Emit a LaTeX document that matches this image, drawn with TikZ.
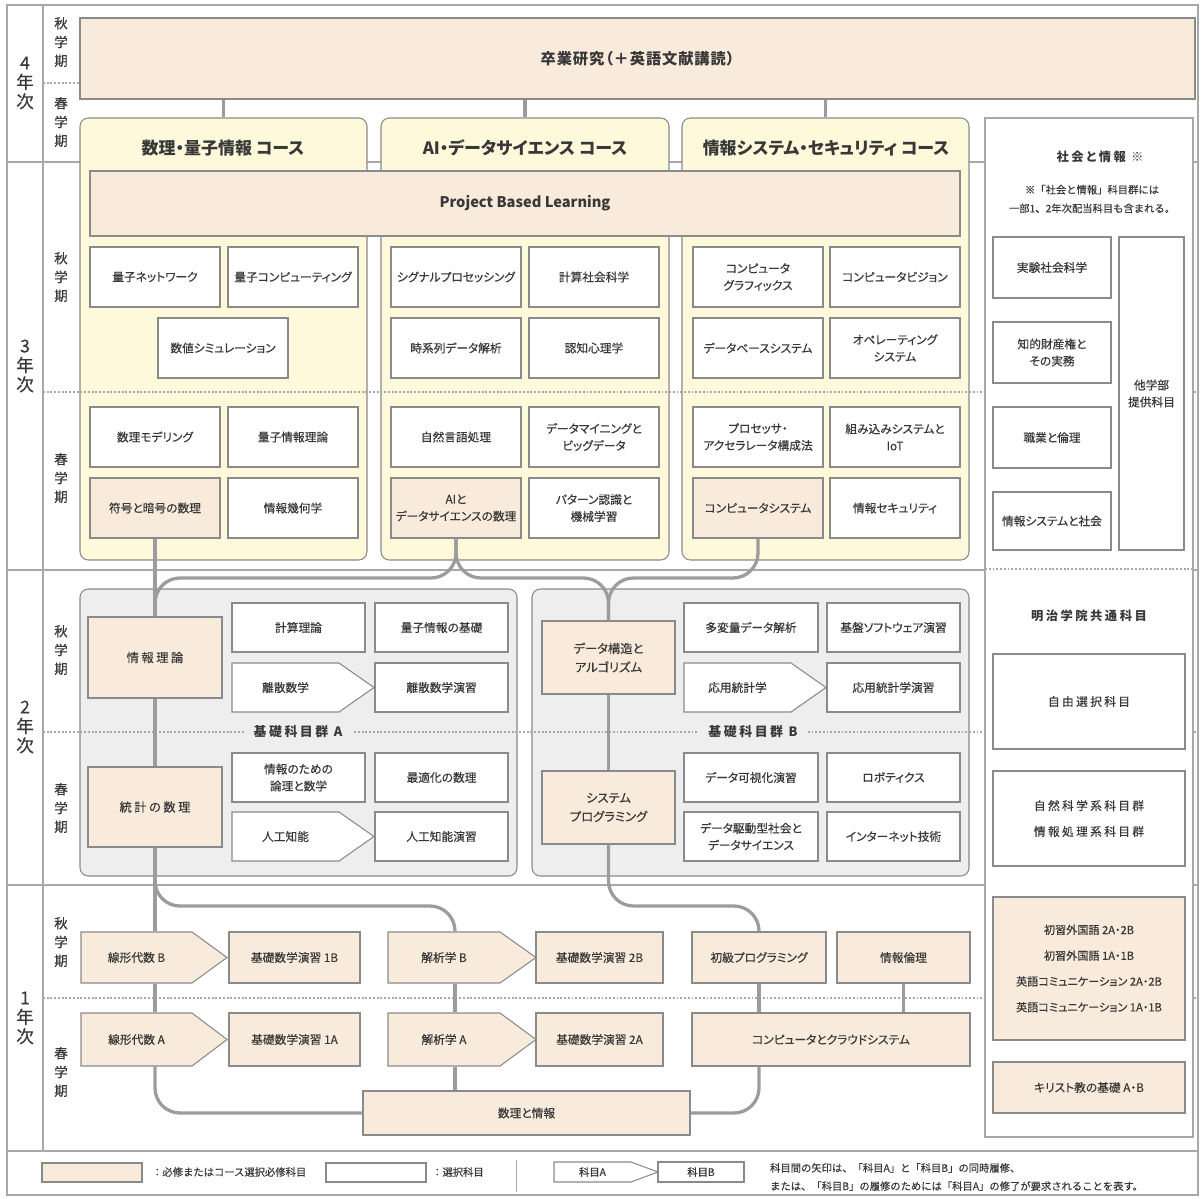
\documentclass[tikz,border=0pt]{standalone}
\usepackage{fontspec}
\setmainfont{Noto Sans CJK JP}[RawFeature=+palt, UprightFeatures={FakeBold=0.3}]
\newfontfamily\plainjp{Noto Sans CJK JP}[UprightFeatures={FakeBold=0.3}]
\usetikzlibrary{calc}

\definecolor{reqc}{HTML}{F8EBDB}
\definecolor{crsc}{HTML}{FFF9DC}
\definecolor{grpc}{HTML}{EEEEEE}
\definecolor{boxc}{HTML}{8A8A8A}
\definecolor{framec}{HTML}{A8A8A8}
\definecolor{connc}{HTML}{9C9C9C}
\definecolor{txtc}{HTML}{383838}

\newcommand\fs{\fontsize{10}{14.5}\selectfont}
\newcommand\lfs{\plainjp\fontsize{8.8}{15.5}\selectfont}
\newcommand\spaced{\addfontfeature{LetterSpace=20}}

% chevron box: style, name, x1, y1, x2, y2 (body), tip length, text
\newcommand\chev[8]{%
  \draw[#1] (#3,#4) -- (#5,#4) -- ({#5+#7},{(#4+#6)/2}) -- (#5,#6) -- (#3,#6) -- cycle;
  \node[#1, draw=none, fill=none, cell={#3/#4/#5/#6}] (#2) {#8};
}

\tikzset{
  cell/.style args={#1/#2/#3/#4}{at={({(#1+#3)/2},{(#2+#4)/2})},
    minimum width={(#3-#1)*0.03cm}, minimum height={(#4-#2)*0.03cm}},
  box/.style={draw=boxc, line width=0.9pt, inner sep=0pt, align=center, text=txtc, font=\fs},
  sel/.style={box, fill=white},
  req/.style={box, fill=reqc},
  course/.style={draw=boxc, line width=0.9pt, fill=crsc, rounded corners=0.25cm, inner sep=0pt},
  group/.style={draw=boxc, line width=0.9pt, fill=grpc, rounded corners=0.25cm, inner sep=0pt},
  rule/.style={draw=framec, line width=1.2pt},
  semline/.style={draw=framec, line width=1pt, dash pattern=on 1.6pt off 1.6pt},
  conn/.style={draw=connc, line width=2.8pt, rounded corners=0.75cm},
  yearlbl/.style={align=center, text=txtc, font={\fontsize{15}{16.5}\selectfont}},
  semlbl/.style={align=center, text=txtc, font={\fontsize{11.5}{16}\selectfont}},
  head/.style={text=txtc, font={\fontsize{14.5}{17}\selectfont\bfseries}},
  grplbl/.style={fill=grpc, inner xsep=0.3cm, inner ysep=1pt, text=txtc, font={\fontsize{11}{13}\selectfont\bfseries\spaced}},
  sidettl/.style={text=txtc, font={\fontsize{10.5}{13}\selectfont\bfseries\spaced}},
  note/.style={align=center, text=txtc, font={\plainjp\fontsize{8.8}{16}\selectfont}},
  lgtxt/.style={text=txtc, font=\lfs},
}

\begin{document}
\begin{tikzpicture}[x=0.03cm, y=-0.03cm]
\useasboundingbox (0,0) rectangle (1203,1198);

% frame
\draw[rule] (7,5) rectangle (1198,1195);
\draw[rule] (43,5) -- (43,1151);
\foreach \y in {162,570,885,1151} \draw[rule] (7,\y) -- (1198,\y);

% 4th year
\node[req, cell={80/18/1195/99}, font={\fontsize{13}{15}\selectfont\bfseries\addfontfeature{LetterSpace=6}}] (grad) {卒業研究（＋英語文献講読）};

% courses and groups
\node[course, cell={80/118/367/560}] (crsM) {};
\node[course, cell={381/118/669/560}] (crsA) {};
\node[course, cell={682/118/969/560}] (crsS) {};
\node[head] (hM) at (223,148) {数理・量子情報 コース};
\node[head] (hA) at (525,148) {AI・データサイエンス コース};
\node[head] (hS) at (826,148) {情報システム・セキュリティ コース};
\node[group, cell={80/589/517/876}] (grpA) {};
\node[group, cell={532/589/969/876}] (grpB) {};

% semesters
\draw[semline] (43,83) -- (80,83);
\foreach \y in {392,732,998} \draw[semline] (43,\y) -- (1198,\y);

\node[yearlbl] (y4) at (25,83) {4\\年\\次};
\node[yearlbl] (y3) at (25,366) {3\\年\\次};
\node[yearlbl] (y2) at (25,727) {2\\年\\次};
\node[yearlbl] (y1) at (25,1018) {1\\年\\次};
\node[semlbl] (s4a) at (61,42) {秋\\学\\期};
\node[semlbl] (s4s) at (61,122) {春\\学\\期};
\node[semlbl] (s3a) at (61,277) {秋\\学\\期};
\node[semlbl] (s3s) at (61,478) {春\\学\\期};
\node[semlbl] (s2a) at (61,650) {秋\\学\\期};
\node[semlbl] (s2s) at (61,808) {春\\学\\期};
\node[semlbl] (s1a) at (61,942) {秋\\学\\期};
\node[semlbl] (s1s) at (61,1072) {春\\学\\期};

% 3rd year
\node[req, cell={90/171/960/236}, font={\fontsize{12.5}{14}\selectfont\bfseries}] (pbl) {Project Based Learning};
\node[sel, cell={90/247/220/307}] (qnet) {量子ネットワーク};
\node[sel, cell={228/247/358/307}] (qcomp) {量子コンピューティング};
\node[sel, cell={158/318/288/378}] (numsim) {数値シミュレーション};
\node[sel, cell={391/247/521/307}] (sigp) {シグナルプロセッシング};
\node[sel, cell={529/247/659/307}] (css) {計算社会科学};
\node[sel, cell={391/318/521/378}] (tsa) {時系列データ解析};
\node[sel, cell={529/318/659/378}] (cogp) {認知心理学};
\node[sel, cell={693/247/823/307}] (cg) {コンピュータ\\グラフィックス};
\node[sel, cell={830/247/960/307}] (cv) {コンピュータビジョン};
\node[sel, cell={693/318/823/378}] (dbs) {データベースシステム};
\node[sel, cell={830/318/960/378}] (os) {オペレーティング\\システム};

\node[sel, cell={90/407/220/467}] (model) {数理モデリング};
\node[sel, cell={228/407/358/467}] (qinfo) {量子情報理論};
\node[req, cell={90/478/220/538}] (fugo) {符号と暗号の数理};
\node[sel, cell={228/478/358/538}] (igeo) {情報幾何学};
\node[sel, cell={391/407/521/467}] (nlp) {自然言語処理};
\node[sel, cell={529/407/659/467}] (dmine) {データマイニングと\\ビッグデータ};
\node[req, cell={391/478/521/538}] (aids) {AIと\\データサイエンスの数理};
\node[sel, cell={529/478/659/538}] (patt) {パターン認識と\\機械学習};
\node[sel, cell={693/407/823/467}] (proc) {プロセッサ・\\アクセラレータ構成法};
\node[sel, cell={830/407/960/467}] (embd) {組み込みシステムと\\IoT};
\node[req, cell={693/478/823/538}] (csys) {コンピュータシステム};
\node[sel, cell={830/478/960/538}] (isec) {情報セキュリティ};

% 2nd year, group A
\node[req, cell={88/617/222/698}, font={\fontsize{10.5}{14}\selectfont\spaced}] (joho) {情報理論};
\node[req, cell={88/767/222/847}, font={\fontsize{10.5}{14}\selectfont\spaced}] (stat) {統計の数理};
\node[sel, cell={232/603/365/652}] (comp) {計算理論};
\node[sel, cell={375/603/508/652}] (qbase) {量子情報の基礎};
\chev{sel}{disc}{232}{663}{339}{712}{35}{離散数学}
\node[sel, cell={375/663/508/712}] (discx) {離散数学演習};
\node[sel, cell={232/753/365/802}] (logic) {情報のための\\論理と数学};
\node[sel, cell={375/753/508/802}] (optm) {最適化の数理};
\chev{sel}{ai}{232}{812}{339}{861}{35}{人工知能}
\node[sel, cell={375/812/508/861}] (aix) {人工知能演習};
\node[grplbl] (gA) at (298,732) {基礎科目群 A};

% 2nd year, group B
\node[req, cell={542/621/675/694}, font={\fontsize{10.5}{16}\selectfont}] (dstr) {データ構造と\\アルゴリズム};
\node[req, cell={542/771/675/844}, font={\fontsize{10.5}{16}\selectfont}] (sysp) {システム\\プログラミング};
\node[sel, cell={684/603/818/652}] (mva) {多変量データ解析};
\node[sel, cell={827/603/960/652}] (basesw) {基盤ソフトウェア演習};
\chev{sel}{apst}{684}{663}{791}{712}{35}{応用統計学}
\node[sel, cell={827/663/960/712}] (apstx) {応用統計学演習};
\node[sel, cell={684/753/818/802}] (visx) {データ可視化演習};
\node[sel, cell={827/753/960/802}] (robo) {ロボティクス};
\node[sel, cell={684/812/818/861}] (dsoc) {データ駆動型社会と\\データサイエンス};
\node[sel, cell={827/812/960/861}] (inet) {インターネット技術};
\node[grplbl] (gB) at (753,732) {基礎科目群 B};

% 1st year
\chev{req}{linB}{81}{932}{192}{983}{35}{線形代数 B}
\node[req, cell={229/932/360/983}] (ex1B) {基礎数学演習 1B};
\chev{req}{kaiB}{388}{932}{500}{983}{36}{解析学 B}
\node[req, cell={536/932/663/983}] (ex2B) {基礎数学演習 2B};
\node[req, cell={692/932/826/983}] (shokyu) {初級プログラミング};
\node[req, cell={837/932/970/983}] (rinri) {情報倫理};
\chev{req}{linA}{81}{1013}{192}{1066}{35}{線形代数 A}
\node[req, cell={229/1013/360/1066}] (ex1A) {基礎数学演習 1A};
\chev{req}{kaiA}{388}{1013}{500}{1066}{36}{解析学 A}
\node[req, cell={536/1013/663/1066}] (ex2A) {基礎数学演習 2A};
\node[req, cell={692/1013/970/1066}] (cloud) {コンピュータとクラウドシステム};
\node[req, cell={363/1091/690/1135}] (suri) {数理と情報};

% side column
\node[cell={985/118/1193/1137}, draw=framec, line width=1.2pt, fill=white, inner sep=0pt] (side) {};
\draw[semline] (985,569) -- (1193,569);
\node[sidettl] (shk) at (1100,157) {社会と情報 ※};
\node[note] (shkn) at (1092,199) {※「社会と情報」科目群には\\一部1、2年次配当科目も含まれる。};
\node[sel, cell={993/237/1111/298}] (jikken) {実験社会科学};
\node[sel, cell={993/322/1111/383}] (chiteki) {知的財産権と\\その実務};
\node[sel, cell={993/407/1111/468}] (shokugyo) {職業と倫理};
\node[sel, cell={993/492/1111/550}] (jsys) {情報システムと社会};
\node[sel, cell={1119/237/1184/550}] (tagaku) {他学部\\提供科目};
\node[sidettl] (mg) at (1089,616) {明治学院共通科目};
\node[sel, cell={993/654/1185/749}, font={\fs\spaced}] (jiyu) {自由選択科目};
\node[sel, cell={993/771/1185/866}, font={\fontsize{10}{22}\selectfont\spaced}] (shizen) {自然科学系科目群\\情報処理系科目群};
\node[req, cell={993/897/1185/1040}, font={\fontsize{9.5}{22}\selectfont}] (lang) {初習外国語 2A・2B\\初習外国語 1A・1B\\英語コミュニケーション 2A・2B\\英語コミュニケーション 1A・1B};
\node[req, cell={993/1062/1185/1113}] (xian) {キリスト教の基礎 A・B};

% legend
\node[req, cell={42/1163/142/1182}] (lgReq) {};
\node[lgtxt, anchor=west] (lgReqT) at (148,1172) {：必修またはコース選択必修科目};
\node[sel, cell={326/1163/426/1182}] (lgSel) {};
\node[lgtxt, anchor=west] (lgSelT) at (428,1172) {：選択科目};
\draw[rule, line width=0.8pt] (516,1160) -- (516,1192);
\chev{sel, font=\lfs}{lgA}{554}{1162}{631}{1182}{27}{科目A}
\node[sel, cell={658/1162/744/1182}, font=\lfs] (lgB) {科目B};
\node[lgtxt, anchor=west, align=left] (lgNote) at (766,1177) {科目間の矢印は、「科目A」と「科目B」の同時履修、\\または、「科目B」の履修のためには「科目A」の修了が要求されることを表す。};

% connectors
\foreach \c in {crsM,crsA,crsS} \draw[conn] (\c.north |- grad.south) -- (\c.north);
\coordinate (bus3) at (0,578);
\coordinate (bus2) at (0,906);
\coordinate (kcol) at (455,0);
\draw[conn] (fugo.south) -- (joho.north);
\draw[conn] (aids.south) -- (aids.south |- bus3) -- (joho.north |- bus3) -- (joho.north);
\draw[conn] (aids.south) -- (aids.south |- bus3) -- (dstr.north |- bus3) -- (dstr.north);
\draw[conn] (csys.south) -- (csys.south |- bus3) -- (dstr.north |- bus3) -- (dstr.north);
\draw[conn] (joho.south) -- (stat.north);
\draw[conn] (dstr.south) -- (sysp.north);
\draw[conn] (stat.south) -- (stat.south |- linB.north);
\draw[conn] (stat.south) -- (stat.south |- bus2) -- (kcol |- bus2) -- (kcol |- kaiB.north);
\draw[conn] (sysp.south) -- (sysp.south |- bus2) -- (shokyu.north |- bus2) -- (shokyu.north);
\draw[conn] (stat.south |- linB.south) -- (stat.south |- linA.north);
\draw[conn] (kcol |- kaiB.south) -- (kcol |- kaiA.north);
\draw[conn] (kcol |- kaiA.south) -- (kcol |- suri.north);
\draw[conn] (stat.south |- linA.south) |- (suri.west);
\draw[conn] (shokyu.south) -- (shokyu.south |- cloud.north);
\draw[conn] (rinri.south) -- (rinri.south |- cloud.north);
\draw[conn] (shokyu.south |- cloud.south) |- (suri.east);
\end{tikzpicture}
\end{document}
